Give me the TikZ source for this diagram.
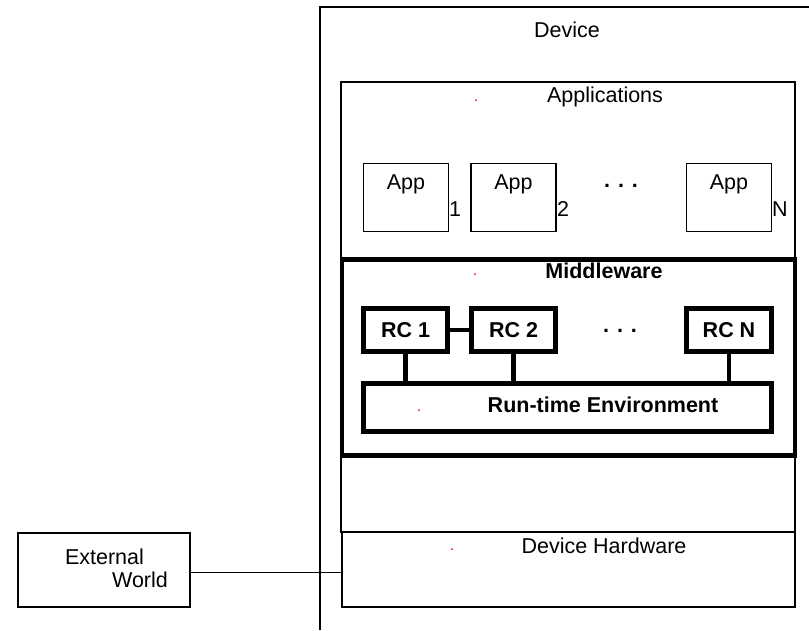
\documentclass[tikz,border=0pt]{standalone}
\usepackage{fontspec}
\setmainfont{Liberation Sans}
\begin{document}
\begin{tikzpicture}[x=1pt,y=-1pt,
  box/.style={draw, line width=1.4pt, inner sep=0pt, outer sep=0pt},
  heavy/.style={draw, line width=4.6pt, inner sep=0pt, outer sep=0pt},
  lbl/.style={inner sep=0pt, font=\fontsize{21.5}{25}\selectfont},
  blbl/.style={inner sep=0pt, font=\fontsize{21.5}{25}\selectfont\bfseries},
  mark dot/.style={fill=red, draw=none, circle, inner sep=0pt, minimum size=2pt}]
\useasboundingbox (0,0) rectangle (809,630);

% device outline (open to the right and bottom)
\coordinate (devbl) at (320,630);
\coordinate (devtl) at (320,7);
\coordinate (devtr) at (809,7);
\draw[line width=1.4pt] (devbl) -- (devtl) -- (devtr);
\node[lbl] (devlbl) at (567,30) {Device};

% applications layer
\node[box, minimum width=454pt, minimum height=450pt] (apps) at (568,307) {};
\node[lbl] (appslbl) at (605,97) {Applications};
\node[mark dot] (d1) at (476,100) {};

\node[box, minimum width=85pt, minimum height=68pt] (app1) at (406,197.5) {};
\node[box, minimum width=85pt, minimum height=68pt] (app2) at (513.5,197.5) {};
\node[box, minimum width=85pt, minimum height=68pt] (appn) at (729,197.5) {};
\node[lbl] (app1t) at (406,184) {App};
\node[lbl] (app2t) at (513.5,184) {App};
\node[lbl] (appnt) at (729,184) {App};
\node[lbl] (app1n) at (455,209) {1};
\node[lbl] (app2n) at (563,209) {2};
\node[lbl] (appnn) at (780,209) {N};
\node[blbl] (appdots) at (621,186) {. . .};

% middleware layer
\node[heavy, fill=white, minimum width=453pt, minimum height=196pt] (mw) at (568.5,357.5) {};
\node[blbl] (mwlbl) at (604,271) {Middleware};
\node[mark dot] (d2) at (475,274) {};

\node[heavy, minimum width=84pt, minimum height=43pt] (rc1) at (405.5,330) {};
\node[heavy, minimum width=84pt, minimum height=43pt] (rc2) at (513.5,330) {};
\node[heavy, minimum width=85pt, minimum height=43pt] (rcn) at (729,330) {};
\node[blbl] at (rc1) {RC 1};
\node[blbl] at (rc2) {RC 2};
\node[blbl] at (rcn) {RC N};
\node[blbl] (rcdots) at (620,331) {. . .};

\node[heavy, minimum width=408pt, minimum height=48pt] (rte) at (567.5,407.5) {};
\node[blbl] (rtelbl) at (603,405) {Run-time Environment};
\node[mark dot] (d3) at (419,410) {};

\draw[line width=4.6pt] (rc1.east) -- (rc2.west);
\draw[line width=4.6pt] (rc1.south) -- (rc1.south |- rte.north);
\draw[line width=4.6pt] (rc2.south) -- (rc2.south |- rte.north);
\draw[line width=4.6pt] (rcn.south) -- (rcn.south |- rte.north);

% hardware layer
\node[box, minimum width=453pt, minimum height=75pt] (hw) at (568.5,569.5) {};
\node[lbl] (hwlbl) at (604,546) {Device Hardware};
\node[mark dot] (d4) at (452,549) {};

% outside world
\node[box, minimum width=172pt, minimum height=74pt] (ext) at (104,570) {};
\node[lbl] (extl1) at (104.5,557) {External};
\node[lbl] (extl2) at (140,580) {World};
\draw[line width=1.4pt] ([yshift=-2.5pt]ext.east) -- ([yshift=-2.5pt]ext.east -| hw.west);
\end{tikzpicture}
\end{document}
